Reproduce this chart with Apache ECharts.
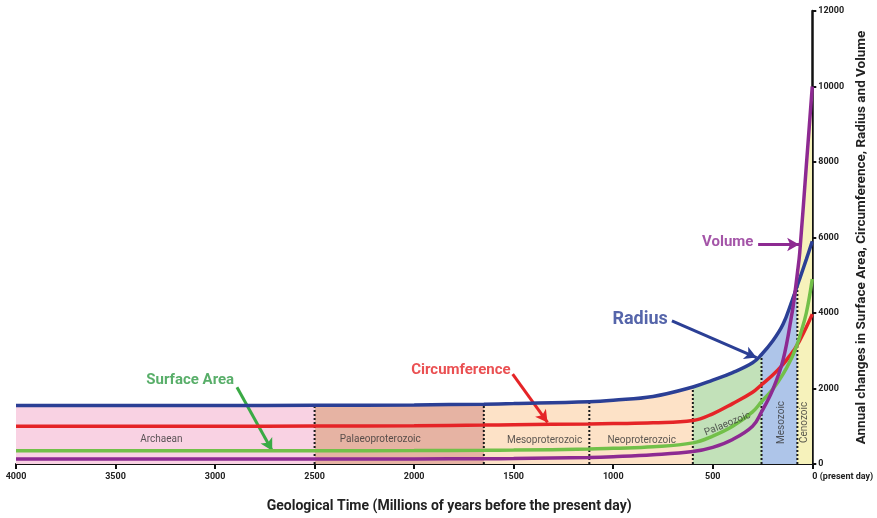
<!DOCTYPE html>
<html><head><meta charset="utf-8">
<script src="https://cdn.jsdelivr.net/npm/echarts@6/dist/echarts.min.js"></script>
<style>html,body{margin:0;padding:0;background:#fff}#c{width:877px;height:518px}</style>
</head><body><div id="c"></div>
<script>
// ---- data ----
const years         = [4000, 3500, 3000, 2500, 2000, 1650, 1500, 1120, 1000, 800, 600, 500, 400, 300, 255, 200, 147, 100, 90, 75, 63, 30, 0];
const radius        = [1550, 1550, 1550, 1555, 1565, 1585, 1600, 1650, 1690, 1790, 2040, 2220, 2420, 2680, 2900, 3250, 3700, 4350, 4500, 4730, 4910, 5420, 5900];
const circumference = [1000, 1000, 1000, 1005, 1015, 1030, 1040, 1060, 1070, 1090, 1150, 1330, 1600, 1900, 2100, 2350, 2640, 2960, 3030, 3160, 3270, 3620, 3970];
const surfaceArea   = [350, 350, 350, 352, 356, 362, 368, 395, 415, 455, 560, 740, 1000, 1380, 1650, 1970, 2380, 2850, 2980, 3180, 3380, 4000, 4900];
const volume        = [130, 130, 130, 132, 135, 140, 145, 175, 195, 245, 330, 440, 650, 1000, 1380, 1950, 2750, 4050, 4420, 5050, 5600, 7900, 10000];

const eraNames = ['Archaean', 'Palaeoproterozoic', 'Mesoproterozoic', 'Neoproterozoic', 'Palaeozoic', 'Mesozoic', 'Cenozoic'];
const eraStart = [4000, 2500, 1650, 1120, 600, 255, 75];
const eraEnd   = [2500, 1650, 1120, 600, 255, 75, 0];

const xTickValues = [4000, 3500, 3000, 2500, 2000, 1500, 1000, 500, 0];
const yTickValues = [0, 2000, 4000, 6000, 8000, 10000, 12000];

// ---- styles ----
const eraColors = ['#f9d2e3', '#e6b3a3', '#fde2c7', '#fde2c7', '#c2e1b9', '#aec5e9', '#f6f2bb'];
const colRadius = '#2b3f95', colCirc = '#e52427', colSurf = '#72c049', colVol = '#8d2a92';
const FONT = 'Roboto, "Open Sans", sans-serif';

// era label placement (data coords) + rotation
const eraLabelPos = [[3270, 640, 0], [2170, 640, 0], [1345, 620, 0], [857, 620, 0], [426, 1060, 22], [155, 1100, 90], [38, 1100, 90]];

// annotations
const notes = [
  {text: 'Surface Area', pos: [3125, 2220], color: '#2e9a44', size: 15, from: [2890, 2035], to: [2713, 352], arrow: '#3aaa45'},
  {text: 'Circumference', pos: [1765, 2485], color: '#e52427', size: 15, from: [1505, 2380], to: [1330, 1100], arrow: '#e52427'},
  {text: 'Radius', pos: [865, 3830], color: '#2b3f95', size: 18, from: [705, 3790], to: [280, 2820], arrow: '#2b3f95'},
  {text: 'Volume', pos: [425, 5870], color: '#8d2a92', size: 15, from: [272, 5815], to: [66, 5815], arrow: '#8d2a92'}
];

// ascending-x order for drawing
const order = years.map((y, i) => i).reverse();
const pairs = arr => order.map(i => [years[i], arr[i]]);
const envelope = order.map(i => [years[i], Math.max(radius[i], circumference[i], surfaceArea[i], volume[i])]);
const topAt = yr => envelope.find(p => p[0] === yr)[1];
const boundaries = eraEnd.slice(0, -1);

const SMOOTH = 0.4;
const series = [];
// 0: coloured envelope
series.push({
  type: 'line', data: envelope, smooth: SMOOTH, symbol: 'none', z: 1,
  lineStyle: {width: 0, opacity: 0}, areaStyle: {opacity: 1}, silent: true
});
// boundary dotted lines
boundaries.forEach(b => series.push({
  type: 'line', data: [[b, 0], [b, topAt(b)]], symbol: 'none', z: 2, silent: true,
  lineStyle: {color: '#1a1a1a', width: 2, type: [2, 2]}
}));
const curve = (arr, color, z) => ({
  type: 'line', data: pairs(arr), smooth: SMOOTH, symbol: 'none', z: z,
  lineStyle: {color: color, width: 3.5}
});
series.push(curve(radius, colRadius, 5));
series.push(curve(circumference, colCirc, 6));
series.push(curve(surfaceArea, colSurf, 7));
series.push(curve(volume, colVol, 8));
// era labels
series.push({
  type: 'scatter', symbolSize: 0, z: 9, silent: true,
  data: eraNames.map((n, i) => ({
    name: n, value: [eraLabelPos[i][0], eraLabelPos[i][1]],
    label: {rotate: eraLabelPos[i][2]}
  })),
  label: {show: true, position: 'inside', formatter: '{b}', color: '#333', fontSize: 10, fontFamily: FONT}
});
// annotation texts
series.push({
  type: 'scatter', symbolSize: 0, z: 10, silent: true,
  data: notes.map(n => ({name: n.text, value: n.pos, label: {color: n.color, fontSize: n.size}})),
  label: {show: true, position: 'inside', formatter: '{b}', fontSize: 15, fontWeight: 'bold', fontFamily: FONT}
});
// arrows
series.push({
  type: 'line', data: [], z: 10, silent: true,
  markLine: {
    silent: true, symbol: ['none', 'arrow'], symbolSize: [10, 12], label: {show: false},
    animation: false,
    data: notes.map(n => [
      {coord: n.from, lineStyle: {color: n.arrow, width: 3, type: 'solid'}},
      {coord: n.to}
    ])
  }
});

const chart = echarts.init(document.getElementById('c'));
chart.setOption({
  animation: false,
  backgroundColor: '#fff',
  grid: {left: 16, right: 60, top: 11, bottom: 53},
  visualMap: {
    type: 'piecewise', show: false, dimension: 0, seriesIndex: 0,
    pieces: eraNames.map((n, i) => i === eraNames.length - 1
      ? {gte: eraEnd[i], lte: eraStart[i], color: eraColors[i]}
      : {gt: eraEnd[i], lte: eraStart[i], color: eraColors[i]})
  },
  xAxis: {
    type: 'value', inverse: true, min: 0, max: 4000, interval: 500,
    name: 'Geological Time (Millions of years before the present day)',
    nameLocation: 'middle', nameGap: 35,
    nameTextStyle: {fontSize: 14, fontWeight: 'bold', color: '#222', fontFamily: FONT, padding: [0, 0, 0, 70]},
    axisLine: {lineStyle: {color: '#111', width: 2}},
    axisTick: {show: true, length: 5, lineStyle: {color: '#111', width: 2}},
    axisLabel: {
      fontSize: 9, fontWeight: 'bold', color: '#222', fontFamily: FONT, margin: 8,
      alignMinLabel: 'left',
      formatter: v => xTickValues.includes(v) ? (v === 0 ? '0 (present day)' : String(v)) : ''
    },
    splitLine: {show: false}
  },
  yAxis: {
    type: 'value', position: 'right', min: 0, max: 12000, interval: 2000,
    name: 'Annual changes in Surface Area, Circumference, Radius and Volume',
    nameLocation: 'middle', nameGap: 34, nameRotate: 90,
    nameTextStyle: {fontSize: 13.5, fontWeight: 'bold', color: '#222', fontFamily: FONT},
    axisLine: {show: true, lineStyle: {color: '#111', width: 2.5}},
    axisTick: {show: true, length: 4, lineStyle: {color: '#111', width: 2}},
    axisLabel: {
      fontSize: 9, fontWeight: 'bold', color: '#222', fontFamily: FONT, margin: 6,
      formatter: v => yTickValues.includes(v) ? String(v) : ''
    },
    splitLine: {show: false}
  },
  series: series
});
</script></body></html>
